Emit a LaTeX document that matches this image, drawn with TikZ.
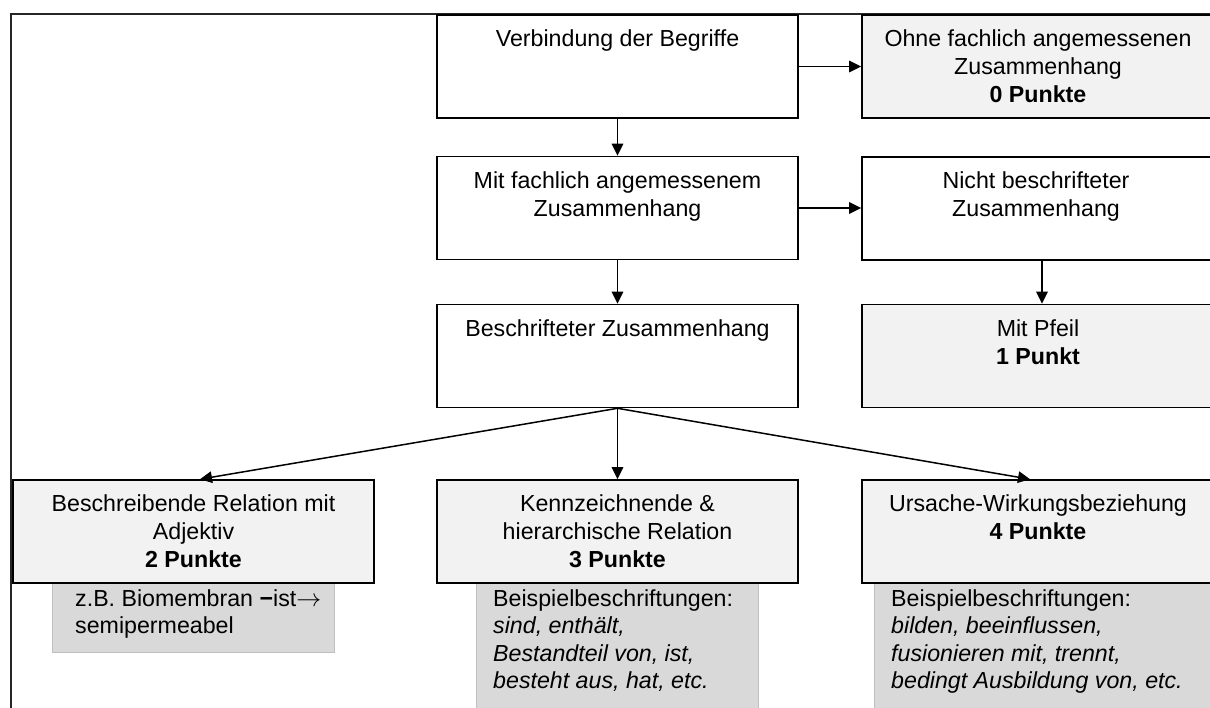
\documentclass[tikz,border=0pt]{standalone}
\usepackage{fontspec}
\setmainfont{Liberation Sans}
\usetikzlibrary{arrows.meta}
\definecolor{boxgrey}{HTML}{F2F2F2}
\definecolor{notegrey}{HTML}{D9D9D9}
\definecolor{noteline}{HTML}{BFBFBF}
% invisible rule fixing the height of a first text line
\newcommand\firstline{\rule{0pt}{22pt}}
\begin{document}
\begin{tikzpicture}[x=1pt,y=-1pt,
  box/.style={draw=black, line width=1.6pt, fill=white, rectangle, inner sep=0pt,
              minimum width=361pt, minimum height=103pt},
  greybox/.style={box, fill=boxgrey},
  note/.style={draw=noteline, line width=0.8pt, fill=notegrey, rectangle, inner sep=0pt},
  lbl/.style={anchor=north, inner sep=0pt, align=center, text=black,
              font=\fontsize{23.2}{28}\selectfont},
  notetext/.style={anchor=north west, inner sep=0pt, align=left, text=black,
              font=\fontsize{23.2}{27.5}\selectfont},
  arr/.style={-{Triangle[length=12pt,width=11.5pt]}, line width=1.5pt}
]
\useasboundingbox (0,0) rectangle (1210,707);
\clip (0,0) rectangle (1210,707);

% page frame
\draw[line width=1.6pt, black!85] (11,730) |- (1240,14);

% example notes (below the scoring boxes)
\node[note, minimum width=282pt, minimum height=69pt]  (Gx) at (193,617.5) {};
\node[note, minimum width=282pt, minimum height=147pt] (Hx) at (617,656.5) {};
\node[note, minimum width=348pt, minimum height=147pt] (Ix) at (1048,656.5) {};

% decision boxes
\node[box]     (A) at (617.5,66.5) {};
\node[greybox, minimum width=360pt] (B) at (1042,66.5) {};
\node[box]     (C) at (617.5,208) {};
\node[box, minimum width=360pt]     (D) at (1042,208.5) {};
\node[box]     (E) at (617.5,356) {};
\node[greybox, minimum width=360pt] (F) at (1042,356) {};
\node[greybox] (G) at (193.5,531.5) {};
\node[greybox] (H) at (617.5,531.5) {};
\node[greybox, minimum width=360pt] (I) at (1042,531.5) {};

% box texts
\node[lbl] (At) at (617.5,24) {\firstline Verbindung der Begriffe};
\node[lbl] (Bt) at (1038,24) {\firstline Ohne fachlich angemessenen\\Zusammenhang\\\textbf{0 Punkte}};
\node[lbl] (Ct) at (617.5,166) {\firstline Mit fachlich angemessenem\\Zusammenhang};
\node[lbl] (Dt) at (1036,166) {\firstline Nicht beschrifteter\\Zusammenhang};
\node[lbl] (Et) at (617.5,314) {\firstline Beschrifteter Zusammenhang};
\node[lbl] (Ft) at (1038,314) {\firstline Mit Pfeil\\\textbf{1 Punkt}};
\node[lbl] (Gt) at (193.5,489) {\firstline Beschreibende Relation mit\\Adjektiv\\\textbf{2 Punkte}};
\node[lbl] (Ht) at (617.5,489) {\firstline Kennzeichnende \&\\hierarchische Relation\\\textbf{3 Punkte}};
\node[lbl] (It) at (1038,489) {\firstline Ursache-Wirkungsbeziehung\\\textbf{4 Punkte}};

% note texts
\node[notetext] (Gxt) at (75,584) {\firstline z.B. Biomembran \textbf{−}ist$\rightarrow$\\semipermeabel};
\node[notetext] (Hxt) at (493,584) {\firstline Beispielbeschriftungen:\\\textit{sind, enthält,}\\\textit{Bestandteil von, ist,}\\\textit{besteht aus, hat, etc.}};
\node[notetext] (Ixt) at (891,584) {\firstline Beispielbeschriftungen:\\\textit{bilden, beeinflussen,}\\\textit{fusionieren mit, trennt,}\\\textit{bedingt Ausbildung von, etc.}};

% connectors
\draw[arr] (A.east) -- (A.east -| B.west);
\draw[arr] (A.south) -- (C.north);
\draw[arr] (C.east) -- (C.east -| D.west);
\draw[arr] (C.south) -- (E.north);
\draw[arr] (D.south) -- (F.north);
\draw[arr] (E.south) -- ([xshift=6.5pt]G.north);
\draw[arr] (E.south) -- (H.north);
\draw[arr] (E.south) -- ([xshift=-12pt]I.north);
\end{tikzpicture}
\end{document}
